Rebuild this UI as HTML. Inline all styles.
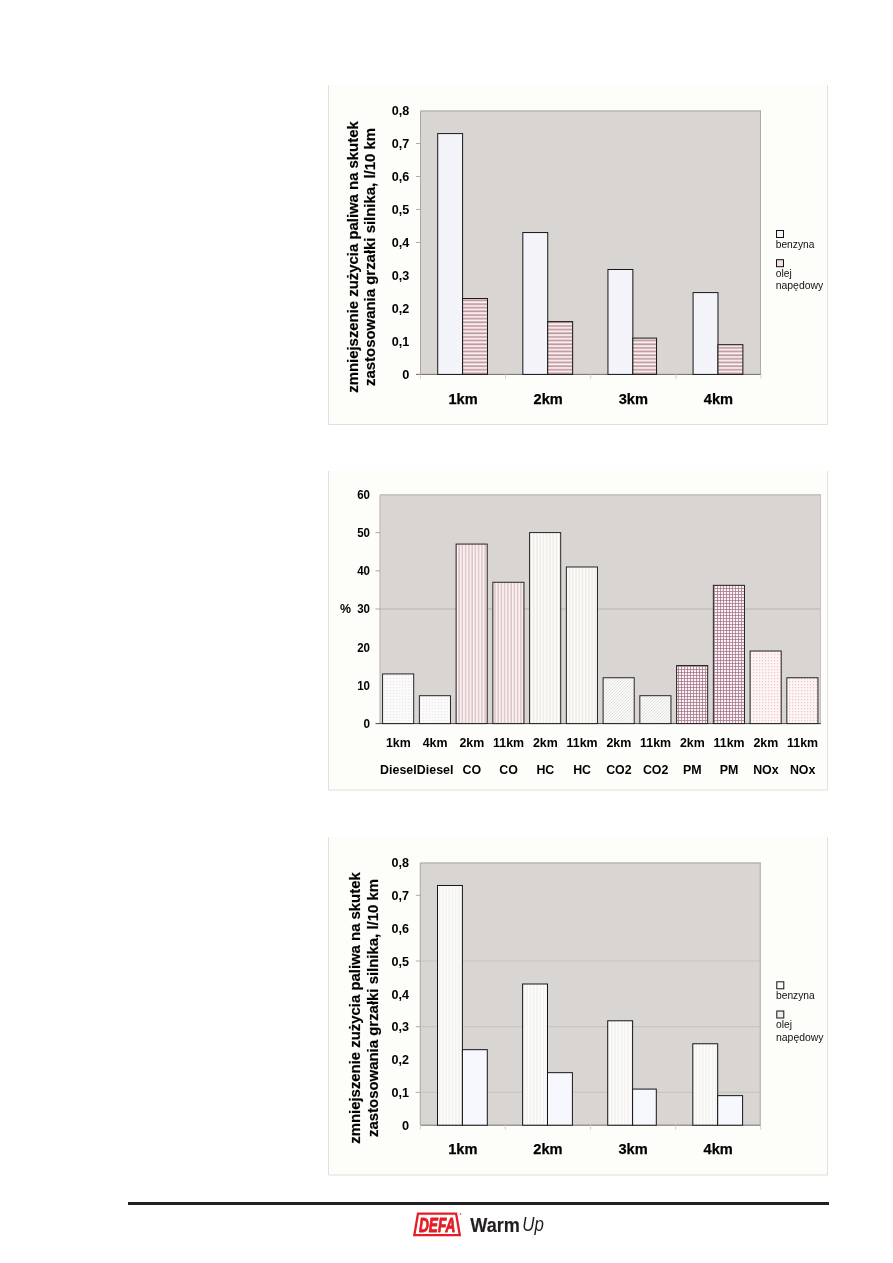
<!DOCTYPE html>
<html lang="pl">
<head>
<meta charset="utf-8">
<title>DEFA WarmUp</title>
<style>
html,body{margin:0;padding:0;background:#fff;}
body{width:893px;height:1263px;overflow:hidden;font-family:"Liberation Sans", Arial, Helvetica, sans-serif;}
svg{display:block;font-family:"Liberation Sans", Arial, Helvetica, sans-serif;will-change:transform;}
</style>
</head>
<body>
<svg width="893" height="1263" viewBox="0 0 893 1263">

<defs>
<pattern id="pDotBlue" width="2" height="2" patternUnits="userSpaceOnUse"><rect width="2" height="2" fill="#f9f9fd"/><rect width="1" height="1" fill="#efeff8"/><rect x="1" y="1" width="1" height="1" fill="#efeff8"/></pattern>
<pattern id="pHRed" width="4" height="3.65" patternUnits="userSpaceOnUse"><rect width="4" height="3.65" fill="#fbf3f3"/><rect y="0.3" width="4" height="1.7" fill="#bf959b"/></pattern>
<pattern id="pDotWhite" width="3" height="3" patternUnits="userSpaceOnUse"><rect width="3" height="3" fill="#fbfafb"/><rect width="1" height="1" fill="#eee6e9"/></pattern>
<pattern id="pVPink" width="3.25" height="4" patternUnits="userSpaceOnUse"><rect width="3.25" height="4" fill="#fbf1f1"/><rect x="0.2" width="1.4" height="4" fill="#dcc3c6"/></pattern>
<pattern id="pVWhite" width="3.25" height="4" patternUnits="userSpaceOnUse"><rect width="3.25" height="4" fill="#fcfbf8"/><rect x="0.2" width="1.2" height="4" fill="#ebe9e5"/></pattern>
<pattern id="pDiag" width="3" height="3" patternUnits="userSpaceOnUse"><rect width="3" height="3" fill="#f9f9f7"/><path d="M-0.5 3.5L3.5 -0.5M-0.5 0.5L0.5 -0.5M2.5 3.5L3.5 2.5" stroke="#dddcd9" stroke-width="0.8"/></pattern>
<pattern id="pGrid" width="3" height="3" patternUnits="userSpaceOnUse"><rect width="3" height="3" fill="#fdf1f5"/><rect width="3" height="0.75" fill="#9f7585"/><rect width="0.75" height="3" fill="#9f7585"/></pattern>
<pattern id="pDotPink" width="3" height="3" patternUnits="userSpaceOnUse"><rect width="3" height="3" fill="#fdf4f3"/><rect width="1.2" height="1.2" fill="#ecc9c9"/></pattern>
<pattern id="pVFaint" width="3.25" height="4" patternUnits="userSpaceOnUse"><rect width="3.25" height="4" fill="#fcfcfa"/><rect x="0.2" width="1.2" height="4" fill="#f1f0ee"/></pattern>
</defs>

<g id="chart1">
<rect x="328" y="85" width="500" height="340" fill="#fdfdf9"/>
<path d="M328.5 85V424.5H827.5V85" fill="none" stroke="#dfe1dc" stroke-width="1"/>
<rect x="420.5" y="110.5" width="340.5" height="263.9" fill="#d9d5d2"/>
<path d="M420.5 374.4V111H761" fill="none" stroke="#a9a6a4" stroke-width="1"/>
<path d="M760.5 110.5V374.4" fill="none" stroke="#adaaa8" stroke-width="1"/>
<text x="409.3" y="379.1" font-size="13" font-weight="bold" text-anchor="end" fill="#000" textLength="7.1" lengthAdjust="spacingAndGlyphs" >0</text>
<text x="409.3" y="346.11" font-size="13" font-weight="bold" text-anchor="end" fill="#000" textLength="17.5" lengthAdjust="spacingAndGlyphs" >0,1</text>
<text x="409.3" y="313.12" font-size="13" font-weight="bold" text-anchor="end" fill="#000" textLength="17.5" lengthAdjust="spacingAndGlyphs" >0,2</text>
<text x="409.3" y="280.14" font-size="13" font-weight="bold" text-anchor="end" fill="#000" textLength="17.5" lengthAdjust="spacingAndGlyphs" >0,3</text>
<line x1="416" x2="420.5" y1="242.45" y2="242.45" stroke="#a5a3a1" stroke-width="0.9"/>
<text x="409.3" y="247.15" font-size="13" font-weight="bold" text-anchor="end" fill="#000" textLength="17.5" lengthAdjust="spacingAndGlyphs" >0,4</text>
<line x1="416" x2="420.5" y1="209.46" y2="209.46" stroke="#a5a3a1" stroke-width="0.9"/>
<text x="409.3" y="214.16" font-size="13" font-weight="bold" text-anchor="end" fill="#000" textLength="17.5" lengthAdjust="spacingAndGlyphs" >0,5</text>
<line x1="416" x2="420.5" y1="176.47" y2="176.47" stroke="#a5a3a1" stroke-width="0.9"/>
<text x="409.3" y="181.17" font-size="13" font-weight="bold" text-anchor="end" fill="#000" textLength="17.5" lengthAdjust="spacingAndGlyphs" >0,6</text>
<line x1="416" x2="420.5" y1="143.49" y2="143.49" stroke="#a5a3a1" stroke-width="0.9"/>
<text x="409.3" y="148.19" font-size="13" font-weight="bold" text-anchor="end" fill="#000" textLength="17.5" lengthAdjust="spacingAndGlyphs" >0,7</text>
<text x="409.3" y="115.2" font-size="13" font-weight="bold" text-anchor="end" fill="#000" textLength="17.5" lengthAdjust="spacingAndGlyphs" >0,8</text>
<line x1="416" x2="761" y1="374.4" y2="374.4" stroke="#6f6d6b" stroke-width="1"/>
<line x1="420.5" x2="420.5" y1="374.4" y2="378.9" stroke="#d3d1cd" stroke-width="1"/>
<line x1="505.62" x2="505.62" y1="374.4" y2="378.9" stroke="#d3d1cd" stroke-width="1"/>
<line x1="590.75" x2="590.75" y1="374.4" y2="378.9" stroke="#d3d1cd" stroke-width="1"/>
<line x1="675.88" x2="675.88" y1="374.4" y2="378.9" stroke="#d3d1cd" stroke-width="1"/>
<line x1="761" x2="761" y1="374.4" y2="378.9" stroke="#d3d1cd" stroke-width="1"/>
<rect x="437.7" y="133.59" width="24.9" height="240.81" fill="url(#pDotBlue)" stroke="#161616" stroke-width="1"/>
<rect x="462.6" y="298.53" width="24.9" height="75.87" fill="url(#pHRed)" stroke="#161616" stroke-width="1"/>
<text x="463.06" y="403.6" font-size="14.6" font-weight="bold" text-anchor="middle" fill="#000" stroke="#000" stroke-width="0.25">1km</text>
<rect x="522.83" y="232.55" width="24.9" height="141.85" fill="url(#pDotBlue)" stroke="#161616" stroke-width="1"/>
<rect x="547.73" y="321.62" width="24.9" height="52.78" fill="url(#pHRed)" stroke="#161616" stroke-width="1"/>
<text x="548.19" y="403.6" font-size="14.6" font-weight="bold" text-anchor="middle" fill="#000" stroke="#000" stroke-width="0.25">2km</text>
<rect x="607.95" y="269.5" width="24.9" height="104.9" fill="url(#pDotBlue)" stroke="#161616" stroke-width="1"/>
<rect x="632.85" y="338.11" width="23.7" height="36.29" fill="url(#pHRed)" stroke="#161616" stroke-width="1"/>
<text x="633.31" y="403.6" font-size="14.6" font-weight="bold" text-anchor="middle" fill="#000" stroke="#000" stroke-width="0.25">3km</text>
<rect x="693.08" y="292.59" width="24.9" height="81.81" fill="url(#pDotBlue)" stroke="#161616" stroke-width="1"/>
<rect x="717.98" y="344.71" width="24.9" height="29.69" fill="url(#pHRed)" stroke="#161616" stroke-width="1"/>
<text x="718.44" y="403.6" font-size="14.6" font-weight="bold" text-anchor="middle" fill="#000" stroke="#000" stroke-width="0.25">4km</text>
<text transform="translate(357.6 257) rotate(-90) scale(1 1.03)" font-size="15" font-weight="bold" text-anchor="middle" fill="#000" stroke="#000" stroke-width="0.18" textLength="271.5" lengthAdjust="spacingAndGlyphs">zmniejszenie zużycia paliwa na skutek</text>
<text transform="translate(375 257) rotate(-90) scale(1 1.03)" font-size="15" font-weight="bold" text-anchor="middle" fill="#000" stroke="#000" stroke-width="0.18" textLength="258" lengthAdjust="spacingAndGlyphs">zastosowania grzałki silnika, l/10 km</text>
<rect x="776.5" y="230.5" width="7" height="7" fill="#f4f4fb" stroke="#111" stroke-width="1"/>
<text x="775.7" y="247.5" font-size="10.3" font-weight="normal" text-anchor="start" fill="#111" textLength="38.7" lengthAdjust="spacingAndGlyphs" >benzyna</text>
<rect x="776.5" y="259.7" width="7" height="7" fill="#f0e2e4" stroke="#111" stroke-width="1"/>
<text x="775.7" y="276.8" font-size="10.3" font-weight="normal" text-anchor="start" fill="#111" >olej</text>
<text x="775.7" y="289.3" font-size="10.3" font-weight="normal" text-anchor="start" fill="#111" textLength="47.6" lengthAdjust="spacingAndGlyphs" >napędowy</text>
</g>
<g id="chart3">
<rect x="328" y="837" width="500" height="338.5" fill="#fdfdf9"/>
<path d="M328.5 837V1175H827.5V837" fill="none" stroke="#dfe1dc" stroke-width="1"/>
<rect x="420.3" y="862.5" width="340.4" height="262.7" fill="#d9d5d2"/>
<path d="M420.3 1125.2V863H760.7" fill="none" stroke="#a9a6a4" stroke-width="1"/>
<path d="M760.2 862.5V1125.2" fill="none" stroke="#adaaa8" stroke-width="1"/>
<line x1="420.3" x2="760.7" y1="1092.36" y2="1092.36" stroke="#c4c0bc" stroke-width="0.9"/>
<line x1="420.3" x2="760.7" y1="1026.69" y2="1026.69" stroke="#c4c0bc" stroke-width="0.9"/>
<line x1="420.3" x2="760.7" y1="961.01" y2="961.01" stroke="#c4c0bc" stroke-width="0.9"/>
<text x="409.1" y="1129.9" font-size="13" font-weight="bold" text-anchor="end" fill="#000" textLength="7.1" lengthAdjust="spacingAndGlyphs" >0</text>
<line x1="415.8" x2="420.3" y1="1092.36" y2="1092.36" stroke="#a5a3a1" stroke-width="0.9"/>
<text x="409.1" y="1097.06" font-size="13" font-weight="bold" text-anchor="end" fill="#000" textLength="17.5" lengthAdjust="spacingAndGlyphs" >0,1</text>
<text x="409.1" y="1064.23" font-size="13" font-weight="bold" text-anchor="end" fill="#000" textLength="17.5" lengthAdjust="spacingAndGlyphs" >0,2</text>
<line x1="415.8" x2="420.3" y1="1026.69" y2="1026.69" stroke="#a5a3a1" stroke-width="0.9"/>
<text x="409.1" y="1031.39" font-size="13" font-weight="bold" text-anchor="end" fill="#000" textLength="17.5" lengthAdjust="spacingAndGlyphs" >0,3</text>
<text x="409.1" y="998.55" font-size="13" font-weight="bold" text-anchor="end" fill="#000" textLength="17.5" lengthAdjust="spacingAndGlyphs" >0,4</text>
<line x1="415.8" x2="420.3" y1="961.01" y2="961.01" stroke="#a5a3a1" stroke-width="0.9"/>
<text x="409.1" y="965.71" font-size="13" font-weight="bold" text-anchor="end" fill="#000" textLength="17.5" lengthAdjust="spacingAndGlyphs" >0,5</text>
<text x="409.1" y="932.88" font-size="13" font-weight="bold" text-anchor="end" fill="#000" textLength="17.5" lengthAdjust="spacingAndGlyphs" >0,6</text>
<line x1="415.8" x2="420.3" y1="895.34" y2="895.34" stroke="#a5a3a1" stroke-width="0.9"/>
<text x="409.1" y="900.04" font-size="13" font-weight="bold" text-anchor="end" fill="#000" textLength="17.5" lengthAdjust="spacingAndGlyphs" >0,7</text>
<text x="409.1" y="867.2" font-size="13" font-weight="bold" text-anchor="end" fill="#000" textLength="17.5" lengthAdjust="spacingAndGlyphs" >0,8</text>
<line x1="420.3" x2="760.7" y1="1125.2" y2="1125.2" stroke="#6f6d6b" stroke-width="1"/>
<line x1="420.3" x2="420.3" y1="1125.2" y2="1129.7" stroke="#d3d1cd" stroke-width="1"/>
<line x1="505.4" x2="505.4" y1="1125.2" y2="1129.7" stroke="#d3d1cd" stroke-width="1"/>
<line x1="590.5" x2="590.5" y1="1125.2" y2="1129.7" stroke="#d3d1cd" stroke-width="1"/>
<line x1="675.6" x2="675.6" y1="1125.2" y2="1129.7" stroke="#d3d1cd" stroke-width="1"/>
<line x1="760.7" x2="760.7" y1="1125.2" y2="1129.7" stroke="#d3d1cd" stroke-width="1"/>
<rect x="437.5" y="885.49" width="24.9" height="239.71" fill="url(#pVFaint)" stroke="#161616" stroke-width="1"/>
<rect x="462.4" y="1049.67" width="24.9" height="75.53" fill="#f6f8fe" stroke="#161616" stroke-width="1"/>
<text x="462.85" y="1153.9" font-size="14.6" font-weight="bold" text-anchor="middle" fill="#000" stroke="#000" stroke-width="0.25">1km</text>
<rect x="522.6" y="984" width="24.9" height="141.2" fill="url(#pVFaint)" stroke="#161616" stroke-width="1"/>
<rect x="547.5" y="1072.66" width="24.9" height="52.54" fill="#f6f8fe" stroke="#161616" stroke-width="1"/>
<text x="547.95" y="1153.9" font-size="14.6" font-weight="bold" text-anchor="middle" fill="#000" stroke="#000" stroke-width="0.25">2km</text>
<rect x="607.7" y="1020.78" width="24.9" height="104.42" fill="url(#pVFaint)" stroke="#161616" stroke-width="1"/>
<rect x="632.6" y="1089.08" width="23.7" height="36.12" fill="#f6f8fe" stroke="#161616" stroke-width="1"/>
<text x="633.05" y="1153.9" font-size="14.6" font-weight="bold" text-anchor="middle" fill="#000" stroke="#000" stroke-width="0.25">3km</text>
<rect x="692.8" y="1043.76" width="24.9" height="81.44" fill="url(#pVFaint)" stroke="#161616" stroke-width="1"/>
<rect x="717.7" y="1095.65" width="24.9" height="29.55" fill="#f6f8fe" stroke="#161616" stroke-width="1"/>
<text x="718.15" y="1153.9" font-size="14.6" font-weight="bold" text-anchor="middle" fill="#000" stroke="#000" stroke-width="0.25">4km</text>
<text transform="translate(359.8 1008) rotate(-90) scale(1 1.03)" font-size="15" font-weight="bold" text-anchor="middle" fill="#000" stroke="#000" stroke-width="0.18" textLength="271.5" lengthAdjust="spacingAndGlyphs">zmniejszenie zużycia paliwa na skutek</text>
<text transform="translate(377.5 1008) rotate(-90) scale(1 1.03)" font-size="15" font-weight="bold" text-anchor="middle" fill="#000" stroke="#000" stroke-width="0.18" textLength="258" lengthAdjust="spacingAndGlyphs">zastosowania grzałki silnika, l/10 km</text>
<rect x="776.8" y="981.8" width="7" height="7" fill="#fbfbfa" stroke="#111" stroke-width="1"/>
<text x="776" y="998.8" font-size="10.3" font-weight="normal" text-anchor="start" fill="#111" textLength="38.7" lengthAdjust="spacingAndGlyphs" >benzyna</text>
<rect x="776.8" y="1011" width="7" height="7" fill="#efedf0" stroke="#111" stroke-width="1"/>
<text x="776" y="1028.1" font-size="10.3" font-weight="normal" text-anchor="start" fill="#111" >olej</text>
<text x="776" y="1040.6" font-size="10.3" font-weight="normal" text-anchor="start" fill="#111" textLength="47.6" lengthAdjust="spacingAndGlyphs" >napędowy</text>
</g>
<g id="chart2">
<rect x="328" y="471" width="500" height="319.5" fill="#fdfdf9"/>
<path d="M328.5 471V790H827.5V471" fill="none" stroke="#dfe1dc" stroke-width="1"/>
<rect x="380" y="494.4" width="441" height="229.2" fill="#d9d5d2"/>
<path d="M380 723.6V494.9H821" fill="none" stroke="#b5b2af" stroke-width="1"/>
<path d="M820.5 494.4V723.6" fill="none" stroke="#c4c1be" stroke-width="1"/>
<line x1="380" x2="821" y1="609" y2="609" stroke="#b4b0ad" stroke-width="0.9"/>
<text x="370" y="728" font-size="12.2" font-weight="bold" text-anchor="end" fill="#000" textLength="6.5" lengthAdjust="spacingAndGlyphs" >0</text>
<text x="370" y="689.8" font-size="12.2" font-weight="bold" text-anchor="end" fill="#000" textLength="12.8" lengthAdjust="spacingAndGlyphs" >10</text>
<text x="370" y="651.6" font-size="12.2" font-weight="bold" text-anchor="end" fill="#000" textLength="12.8" lengthAdjust="spacingAndGlyphs" >20</text>
<line x1="375.5" x2="380" y1="609" y2="609" stroke="#a19f9d" stroke-width="0.9"/>
<text x="370" y="613.4" font-size="12.2" font-weight="bold" text-anchor="end" fill="#000" textLength="12.8" lengthAdjust="spacingAndGlyphs" >30</text>
<line x1="375.5" x2="380" y1="570.8" y2="570.8" stroke="#a19f9d" stroke-width="0.9"/>
<text x="370" y="575.2" font-size="12.2" font-weight="bold" text-anchor="end" fill="#000" textLength="12.8" lengthAdjust="spacingAndGlyphs" >40</text>
<line x1="375.5" x2="380" y1="532.6" y2="532.6" stroke="#a19f9d" stroke-width="0.9"/>
<text x="370" y="537" font-size="12.2" font-weight="bold" text-anchor="end" fill="#000" textLength="12.8" lengthAdjust="spacingAndGlyphs" >50</text>
<text x="370" y="498.8" font-size="12.2" font-weight="bold" text-anchor="end" fill="#000" textLength="12.8" lengthAdjust="spacingAndGlyphs" >60</text>
<text x="340" y="613.4" font-size="12.2" font-weight="bold" text-anchor="start" fill="#000" textLength="11" lengthAdjust="spacingAndGlyphs" >%</text>
<line x1="375.5" x2="821" y1="723.6" y2="723.6" stroke="#444" stroke-width="1"/>
<rect x="382.6" y="673.94" width="31.1" height="49.66" fill="url(#pDotWhite)" stroke="#1c1c1c" stroke-width="0.95"/>
<text x="398.38" y="746.6" font-size="12.4" font-weight="bold" text-anchor="middle" fill="#000" >1km</text>
<text x="398.38" y="774.2" font-size="12.4" font-weight="bold" text-anchor="middle" fill="#000" >Diesel</text>
<rect x="419.35" y="695.71" width="31.1" height="27.89" fill="url(#pDotWhite)" stroke="#1c1c1c" stroke-width="0.95"/>
<text x="435.12" y="746.6" font-size="12.4" font-weight="bold" text-anchor="middle" fill="#000" >4km</text>
<text x="435.12" y="774.2" font-size="12.4" font-weight="bold" text-anchor="middle" fill="#000" >Diesel</text>
<rect x="456.1" y="544.06" width="31.1" height="179.54" fill="url(#pVPink)" stroke="#1c1c1c" stroke-width="0.95"/>
<text x="471.88" y="746.6" font-size="12.4" font-weight="bold" text-anchor="middle" fill="#000" >2km</text>
<text x="471.88" y="774.2" font-size="12.4" font-weight="bold" text-anchor="middle" fill="#000" >CO</text>
<rect x="492.85" y="582.26" width="31.1" height="141.34" fill="url(#pVPink)" stroke="#1c1c1c" stroke-width="0.95"/>
<text x="508.62" y="746.6" font-size="12.4" font-weight="bold" text-anchor="middle" fill="#000" >11km</text>
<text x="508.62" y="774.2" font-size="12.4" font-weight="bold" text-anchor="middle" fill="#000" >CO</text>
<rect x="529.6" y="532.6" width="31.1" height="191" fill="url(#pVWhite)" stroke="#1c1c1c" stroke-width="0.95"/>
<text x="545.38" y="746.6" font-size="12.4" font-weight="bold" text-anchor="middle" fill="#000" >2km</text>
<text x="545.38" y="774.2" font-size="12.4" font-weight="bold" text-anchor="middle" fill="#000" >HC</text>
<rect x="566.35" y="566.98" width="31.1" height="156.62" fill="url(#pVWhite)" stroke="#1c1c1c" stroke-width="0.95"/>
<text x="582.12" y="746.6" font-size="12.4" font-weight="bold" text-anchor="middle" fill="#000" >11km</text>
<text x="582.12" y="774.2" font-size="12.4" font-weight="bold" text-anchor="middle" fill="#000" >HC</text>
<rect x="603.1" y="677.76" width="31.1" height="45.84" fill="url(#pDiag)" stroke="#1c1c1c" stroke-width="0.95"/>
<text x="618.88" y="746.6" font-size="12.4" font-weight="bold" text-anchor="middle" fill="#000" >2km</text>
<text x="618.88" y="774.2" font-size="12.4" font-weight="bold" text-anchor="middle" fill="#000" >CO2</text>
<rect x="639.85" y="695.71" width="31.1" height="27.89" fill="url(#pDiag)" stroke="#1c1c1c" stroke-width="0.95"/>
<text x="655.62" y="746.6" font-size="12.4" font-weight="bold" text-anchor="middle" fill="#000" >11km</text>
<text x="655.62" y="774.2" font-size="12.4" font-weight="bold" text-anchor="middle" fill="#000" >CO2</text>
<rect x="676.6" y="665.54" width="31.1" height="58.06" fill="url(#pGrid)" stroke="#1c1c1c" stroke-width="0.95"/>
<text x="692.38" y="746.6" font-size="12.4" font-weight="bold" text-anchor="middle" fill="#000" >2km</text>
<text x="692.38" y="774.2" font-size="12.4" font-weight="bold" text-anchor="middle" fill="#000" >PM</text>
<rect x="713.35" y="585.32" width="31.1" height="138.28" fill="url(#pGrid)" stroke="#1c1c1c" stroke-width="0.95"/>
<text x="729.12" y="746.6" font-size="12.4" font-weight="bold" text-anchor="middle" fill="#000" >11km</text>
<text x="729.12" y="774.2" font-size="12.4" font-weight="bold" text-anchor="middle" fill="#000" >PM</text>
<rect x="750.1" y="651.02" width="31.1" height="72.58" fill="url(#pDotPink)" stroke="#1c1c1c" stroke-width="0.95"/>
<text x="765.88" y="746.6" font-size="12.4" font-weight="bold" text-anchor="middle" fill="#000" >2km</text>
<text x="765.88" y="774.2" font-size="12.4" font-weight="bold" text-anchor="middle" fill="#000" >NOx</text>
<rect x="786.85" y="677.76" width="31.1" height="45.84" fill="url(#pDotPink)" stroke="#1c1c1c" stroke-width="0.95"/>
<text x="802.62" y="746.6" font-size="12.4" font-weight="bold" text-anchor="middle" fill="#000" >11km</text>
<text x="802.62" y="774.2" font-size="12.4" font-weight="bold" text-anchor="middle" fill="#000" >NOx</text>
</g>
<rect x="128" y="1202" width="701" height="3" fill="#231f20"/>
<g id="logo">
<path d="M418 1213.55H456.1L459.8 1235.05H414.3Z" fill="#fff" stroke="#e41e26" stroke-width="2.3" stroke-linejoin="miter"/>
<text x="418.9" y="1231.6" font-size="19.8" font-weight="bold" font-style="italic" fill="#e41e26" stroke="#e41e26" stroke-width="0.9" stroke-linejoin="round" textLength="36.6" lengthAdjust="spacingAndGlyphs">DEFA</text>
<circle cx="460.5" cy="1214" r="0.8" fill="#e41e26"/>
<text x="470.3" y="1231.6" font-size="20.6" font-weight="bold" fill="#231f20" stroke="#231f20" stroke-width="0.15" textLength="49.6" lengthAdjust="spacingAndGlyphs">Warm</text>
<text x="522.2" y="1231.4" font-size="20.6" font-weight="normal" font-style="italic" fill="#231f20" textLength="21.6" lengthAdjust="spacingAndGlyphs">Up</text>
</g>
</svg>
</body>
</html>
